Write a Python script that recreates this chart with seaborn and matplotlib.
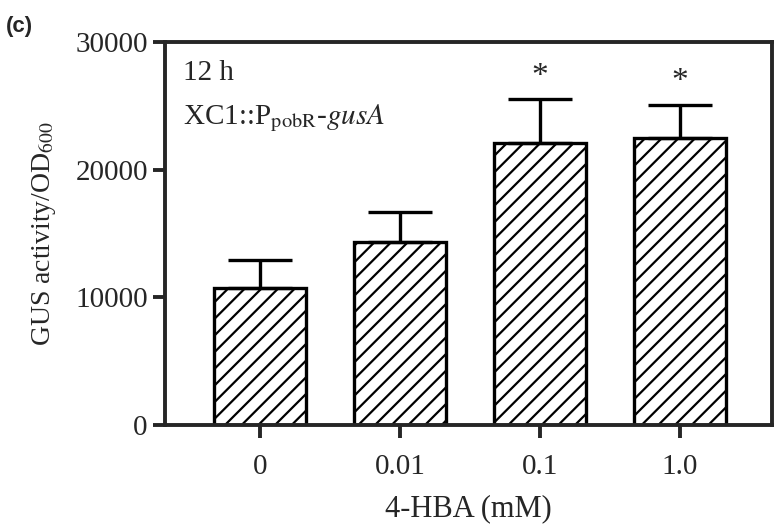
import pandas as pd
import numpy as np
import seaborn as sns
import matplotlib.pyplot as plt

# dane
stezenia = ['0', '0.01', '0.1', '1.0']
gus = [10700, 14350, 22100, 22500]
blad = [2200, 2350, 3400, 2550]
gwiazdki = ['', '', '*', '*']

df = pd.DataFrame({'HBA': stezenia, 'GUS': gus})

sns.set_style('ticks')
plt.rcParams['font.family'] = ['Liberation Serif', 'DejaVu Serif']
plt.rcParams['mathtext.fontset'] = 'stix'
plt.rcParams['hatch.linewidth'] = 1.6

fig = plt.figure(figsize=(7.79, 5.31), dpi=100)
ax = fig.add_axes([0.212, 0.2, 0.779, 0.721])

sns.barplot(data=df, x='HBA', y='GUS', color='white', edgecolor='black',
            linewidth=2.4, width=0.66, errorbar=None, ax=ax)
for p in ax.patches:
    p.set_hatch('//')

ax.errorbar(np.arange(len(gus)), gus, yerr=[np.zeros(len(gus)), blad], fmt='none',
            ecolor='black', elinewidth=2.4, capsize=23, capthick=2.4, zorder=1)

for i, g in enumerate(gwiazdki):
    if g:
        ax.text(i, gus[i] + blad[i] + 1800, g, ha='center', va='center', fontsize=24)

ax.set_xlim(-0.68, 3.66)
ax.set_ylim(0, 30000)
ax.set_yticks([0, 10000, 20000, 30000])
ax.set_xlabel('4-HBA (mM)', fontsize=22, labelpad=10)
ax.set_ylabel(r'GUS activity/OD$_{600}$', fontsize=20, labelpad=12)
ax.tick_params(axis='both', labelsize=21, width=2.8, length=9, direction='out')
ax.tick_params(axis='x', pad=12)
for s in ax.spines.values():
    s.set_linewidth(2.8)

ax.text(0.03, 0.92, '12 h', transform=ax.transAxes, fontsize=21, va='center')
ax.text(0.03, 0.80, r'XC1::P$_{\mathrm{pobR}}$-$\mathit{gusA}$', transform=ax.transAxes,
        fontsize=21, va='center')

fig.text(0.008, 0.94, '(c)', fontsize=16, fontweight='bold', family='Liberation Sans')

plt.savefig('out.png', dpi=100)
